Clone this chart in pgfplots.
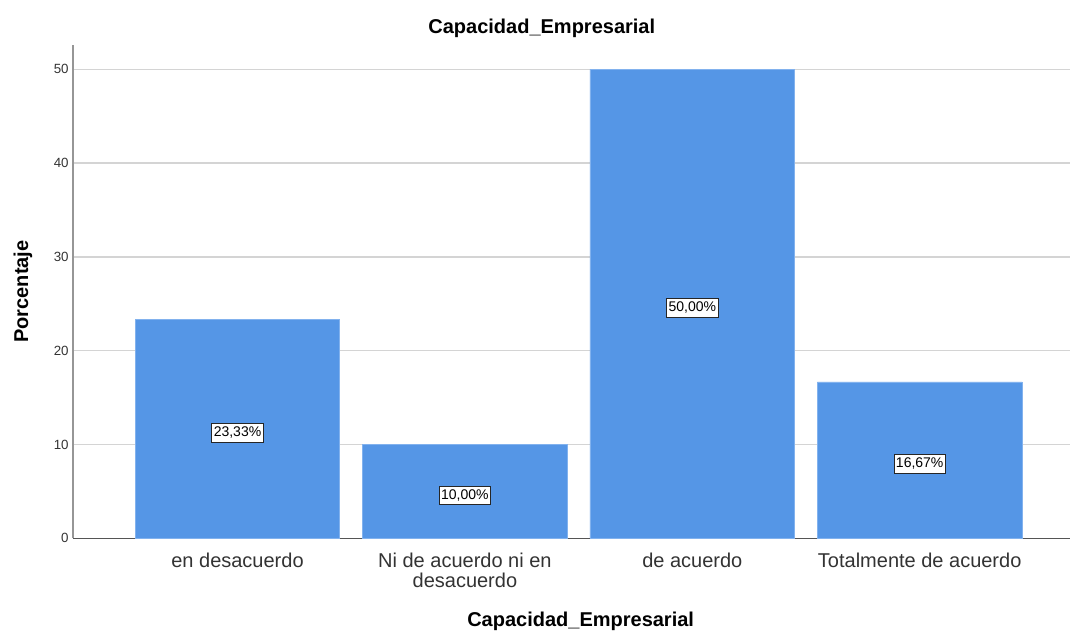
\documentclass[border=0pt]{standalone}
\usepackage{fontspec}
\setmainfont{Liberation Sans}
\usepackage{pgfplots}
\pgfplotsset{compat=1.18}
\definecolor{barblue}{RGB}{85,150,230}
\definecolor{baredge}{RGB}{130,178,238}
\definecolor{gridc}{RGB}{212,212,212}
\begin{document}
\begin{tikzpicture}
\useasboundingbox (-55pt,-71pt) rectangle (747.5pt,403.7pt);
\begin{axis}[
  at={(0,0)}, anchor=south west,
  scale only axis, width=747.5pt, height=370pt,
  xmin=-0.722, xmax=3.661, ymin=0, ymax=52.6,
  axis x line=bottom, axis y line=left,
  x axis line style={-, draw={rgb,255:red,85;green,85;blue,85}, line width=0.8pt},
  y axis line style={-, draw={rgb,255:red,150;green,150;blue,150}, line width=1.3pt},
  xtick={0,1,2,3},
  xticklabels={en desacuerdo,{Ni de acuerdo ni en\\desacuerdo},de acuerdo,Totalmente de acuerdo},
  ytick={0,10,20,30,40,50},
  major tick length=0pt,
  ymajorgrids, grid style={draw=gridc, line width=1.1pt},
  /pgf/number format/assume math mode=true,
  xticklabel style={font=\fontsize{15}{15}\selectfont, align=center, text=black!80, yshift=-7.5pt},
  yticklabel style={font=\fontsize{10}{12}\selectfont, text=black!80},
  every axis title shift=0pt,
  title={Capacidad\_Empresarial},
  title style={font=\bfseries\fontsize{15}{18}\selectfont, at={(axis description cs:0.470,1.0345)}, anchor=center},
  xlabel={Capacidad\_Empresarial},
  xlabel style={font=\bfseries\fontsize{15}{18}\selectfont, at={(axis description cs:0.509,-0.1683)}, anchor=center},
  ylabel={Porcentaje},
  ylabel style={font=\bfseries\fontsize{15}{18}\selectfont, at={(axis description cs:-0.0505,0.5)}, anchor=center},
]
\addplot[ybar, bar width=0.9, fill=barblue, draw=baredge, line width=0.6pt]
  coordinates {(0,23.33) (1,10) (2,50) (3,16.67)};
\addplot[draw=none, mark=none,
  point meta=explicit,
  nodes near coords={\pgfmathprintnumber[fixed,fixed zerofill,precision=2,use comma]{\pgfplotspointmeta}\%},
  every node near coord/.style={anchor=center, yshift=-3pt, fill=white, draw=black!85, line width=0.6pt,
    inner xsep=1.5pt, inner ysep=2.2pt, text height=7.8pt, text depth=2pt,
    font=\fontsize{10.5}{12}\selectfont, text=black}]
  table[meta=m] {
x y m
0 11.665 23.33
1 5 10
2 25 50
3 8.335 16.67
};
\end{axis}
\end{tikzpicture}
\end{document}
